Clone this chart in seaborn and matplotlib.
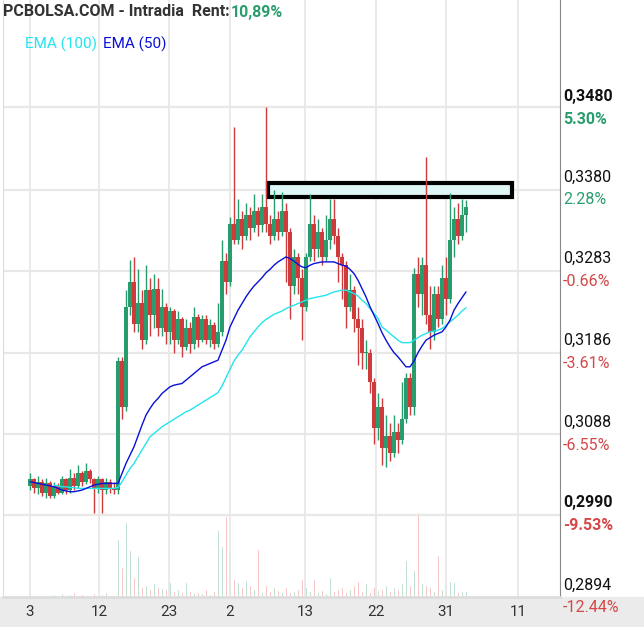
import matplotlib
matplotlib.use("Agg")
import matplotlib.pyplot as plt
import seaborn as sns
import numpy as np
import pandas as pd
from matplotlib.patches import Rectangle

sns.set_style("white")
plt.rcParams['font.family'] = ['Roboto', 'DejaVu Sans']

opens = [3025,3033,3023,3030,3017,3028,3013,3025,3017,3033,3020,3035,3025,3040,3030,3043,3033,3021,3033,3020,3030,3023,
         3020,3175,3120,3240,3270,3220,3245,3200,3260,3230,3262,3215,3240,3210,3235,3200,3225,3192,3215,3195,3228,3200,3225,3200,3218,3195,
         3210,3295,3270,3340,3320,3345,3325,3350,3335,3355,3338,3360,3340,3325,3345,3330,
         3355,3330,3265,3300,3275,3240,3300,3340,3310,3330,3300,3320,3345,3325,3300,3290,3240,3260,3225,3215,3185,
         3185,3150,3095,3120,3070,3085,3065,3090,3080,3105,3155,3120,3280,3255,3290,3230,3210,3255,3225,3275,3250,3320,3345,3325,3350]
closes = [3033,3023,3030,3017,3028,3013,3025,3017,3033,3020,3035,3025,3040,3030,3043,3033,3021,3033,3020,3030,3023,3020,
          3175,3120,3240,3270,3220,3245,3200,3260,3230,3262,3215,3240,3210,3235,3200,3225,3192,3215,3195,3228,3200,3225,3200,3218,3195,3210,
          3295,3270,3340,3320,3345,3325,3350,3335,3355,3338,3360,3340,3325,3345,3330,3355,
          3330,3265,3300,3275,3240,3300,3340,3310,3330,3300,3320,3345,3325,3300,3290,3240,3260,3225,3215,3185,3185,
          3150,3095,3120,3070,3085,3065,3090,3080,3105,3155,3120,3280,3255,3290,3230,3210,3255,3225,3275,3250,3320,3345,3325,3350,3360]
highs = [3040,3035,3037,3033,3035,3031,3030,3028,3037,3035,3045,3040,3050,3043,3053,3045,3035,3037,3035,3035,3033,3030,
         3180,3180,3260,3296,3300,3285,3260,3290,3275,3280,3275,3262,3245,3240,3238,3235,3228,3225,3222,3240,3232,3230,3230,3225,3222,3245,
         3320,3305,3348,3456,3370,3355,3365,3360,3375,3360,3375,3480,3350,3380,3355,3378,
         3365,3335,3310,3305,3285,3305,3375,3350,3345,3335,3350,3370,3370,3335,3305,3295,3280,3265,3240,3225,3200,
         3190,3155,3136,3130,3110,3100,3110,3100,3150,3160,3160,3287,3300,3300,3420,3265,3265,3265,3290,3300,3377,3360,3365,3370,3368]
lows = [3020,3017,3015,3013,3010,3010,3010,3015,3015,3015,3017,3020,3023,3025,3027,3029,2992,3017,2992,3015,3017,3015,
        3015,3105,3115,3230,3210,3210,3190,3195,3205,3215,3205,3205,3195,3195,3185,3195,3180,3188,3185,3190,3192,3198,3195,3192,3190,3192,
        3205,3255,3265,3315,3315,3310,3320,3320,3330,3325,3330,3330,3315,3320,3320,3325,
        3270,3225,3255,3255,3200,3235,3295,3295,3300,3290,3295,3310,3315,3270,3250,3215,3235,3210,3170,3165,3165,
        3136,3075,3080,3050,3048,3055,3060,3065,3075,3100,3110,3110,3240,3230,3220,3190,3200,3216,3220,3230,3245,3300,3315,3320,3330]
ema50 = [3030,3029,3028,3027,3026,3025,3024,3022,3020,3019,3018,3018,3019,3020,3022,3024,3026,3027,3028,3028,3028,3028,3028,
         3040,3052,3062,3072,3085,3098,3110,3118,3125,3130,3136,3140,3144,3146,3147,3148,3152,3156,3160,3164,3168,3170,3172,3174,3176,
         3188,3200,3216,3226,3236,3244,3252,3259,3265,3270,3275,3281,3285,3290,3294,3297,
         3300,3298,3295,3291,3288,3287,3290,3292,3293,3294,3294,3294,3294,3292,3290,3289,3285,3280,3272,3262,3252,
         3240,3230,3220,3209,3200,3192,3185,3180,3174,3168,3168,3175,3185,3193,3200,3203,3206,3208,3210,3216,3224,3236,3244,3251,3258]
ema100 = [np.nan]*6 + [3026,3025,3024,3024,3023,3023,3022,3022,3022,3022,3022,3022,3022,3022,3022,3022,3023,
          3030,3038,3046,3052,3060,3068,3076,3084,3088,3092,3096,3099,3102,3105,3108,3111,3114,3116,3119,3122,3125,3128,3131,3134,3137,
          3145,3155,3165,3175,3182,3188,3196,3204,3210,3216,3221,3225,3228,3231,3233,3235,
          3238,3240,3242,3244,3246,3248,3250,3251,3252,3253,3254,3256,3258,3259,3260,3260,3258,3256,3253,3248,3244,
          3238,3232,3226,3216,3212,3208,3204,3200,3197,3197,3197,3200,3203,3206,3208,3210,3211,3212,3214,3218,3222,3226,3230,3235,3239]
volumes = [2,1,1,2,1,2,3,2,4,2,3,5,2,3,2,1,4,2,3,5,2,1,
           58,30,75,47,20,41,10,12,8,14,10,9,8,15,6,8,5,15,6,4,5,4,8,3,6,67,
           51,81,46,18,15,10,17,12,8,48,5,12,6,10,7,5,
           10,5,6,8,18,10,6,18,5,7,4,20,6,8,10,5,8,12,16,6,14,
           5,10,7,8,12,6,10,8,14,37,12,27,85,14,12,10,6,42,8,18,16,15,5,6,6]
tick_pos = [0, 17.25, 34.75, 50, 68.75, 86.5, 104, 122]
tick_labels = ["3", "12", "23", "2", "13", "22", "31", "11"]
price_levels = [0.3480, 0.3380, 0.3283, 0.3186, 0.3088, 0.2990, 0.2894]
pct_labels = ["5.30%", "2.28%", "-0.66%", "-3.61%", "-6.55%", "-9.53%", "-12.44%"]
grid_prices = [0.3480, 0.33803, 0.3283, 0.31846, 0.30873, 0.2990]

n = len(closes)
df = pd.DataFrame({"i": np.arange(n), "o": np.array(opens)/1e4, "c": np.array(closes)/1e4,
                   "h": np.array(highs)/1e4, "l": np.array(lows)/1e4,
                   "e50": np.array(ema50)/1e4, "e100": np.array(ema100, dtype=float)/1e4,
                   "v": volumes})
GREEN, RED = "#289c6c", "#cf3b3b"
df["col"] = np.where(df.c >= df.o, GREEN, RED)
df["vcol"] = np.where(df.c >= df.o, "#9ccdb6", "#f0a3a3")

W, H = 644, 627
fig = plt.figure(figsize=(W/100, H/100), dpi=100)
fig.patches.append(Rectangle((0, 0), 1, 30/H, transform=fig.transFigure, color="#ebebeb", zorder=0))
ax = fig.add_axes([3/W, 30/H, 557/W, 597/H])
axv = ax.twinx()
axv.set_ylim(0, 597)
axv.bar(df.i, df.v, width=0.3, color=df.vcol, zorder=1)
axv.axis("off")
ax.set_zorder(axv.get_zorder()+1)
ax.patch.set_visible(False)

def px2x(px):
    return (px - 30) / 4.0

ax.set_xlim(px2x(3), px2x(560))
ax.set_ylim(0.28916, 0.3480 + 107/8327)
for gp in grid_prices:
    ax.axhline(gp, color="#e8e8e8", lw=1.6, zorder=0)
for tp in tick_pos:
    ax.axvline(tp, color="#e8e8e8", lw=1.3, zorder=0)

ax.add_patch(Rectangle((px2x(268), 0.33719), px2x(512)-px2x(268), 0.3389-0.33719,
                       facecolor="#dff6f6", edgecolor="black", lw=3, zorder=2))
ax.vlines(df.i, df.l, df.h, colors=df.col, lw=1.0, zorder=3)
ax.bar(df.i, (df.c-df.o).abs().clip(lower=0.00012), bottom=np.minimum(df.o, df.c),
       width=0.95, color=df.col, linewidth=0, zorder=3)
sns.lineplot(data=df, x="i", y="e100", color="#22e5ee", lw=1.0, ax=ax, zorder=4)
sns.lineplot(data=df, x="i", y="e50", color="#0a10d8", lw=1.0, ax=ax, zorder=4)

ax.set_xlabel(""); ax.set_ylabel("")
ax.set_yticks([]); ax.set_xticks([])
ax.spines["top"].set_visible(False)
ax.spines["right"].set_color("#888888")
ax.spines["bottom"].set_color("#dddddd"); ax.spines["bottom"].set_linewidth(2)
ax.spines["left"].set_color("#dddddd")

def ftext(xp, yp, s, **kw):
    return fig.text(xp/W, 1 - yp/H, s, va="center", **kw)

for tp, tl in zip(tick_pos, tick_labels):
    ftext(30 + 4*tp, 612, tl, ha="center", fontsize=11, color="#333333")

pct_cols = ["#2a9d6e", "#2a9d6e", "#d44848", "#d44848", "#d44848", "#d44848", "#d44848"]
ypix = [97, 177, 258, 340, 422, 503, 585]
for k, (p, pl) in enumerate(zip(price_levels, pct_labels)):
    bold = k in (0, 5)
    ftext(563, ypix[k], f"{p:.4f}".replace(".", ","), ha="left", fontsize=11.5,
          color="#111111", fontweight="bold" if bold else "normal")
    ftext(563, ypix[k]+23, pl, ha="left", fontsize=11.5, color=pct_cols[k],
          fontweight="bold" if bold else "normal")

t = ftext(3, 12, "PCBOLSA.COM - Intradia  Rent:", ha="left", fontsize=11.5, color="#333333", fontweight="bold")
fig.canvas.draw()
bb = t.get_window_extent()
fig.text(bb.x1/W + 1/W, 1 - 12/H, "10,89%", va="center", ha="left", fontsize=11.5, color="#2a9d6e", fontweight="bold")
ftext(25, 44, "EMA (100)", ha="left", fontsize=11, color="#22e5ee")
ftext(103, 44, "EMA (50)", ha="left", fontsize=11, color="#0a10d8")

fig.savefig("out.png", dpi=100)
